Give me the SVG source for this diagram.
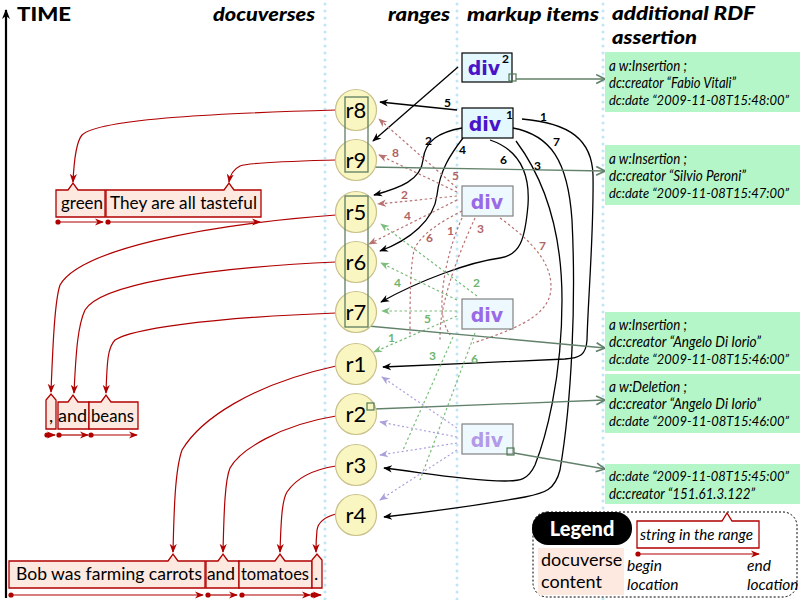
<svg xmlns="http://www.w3.org/2000/svg" width="800" height="600" viewBox="0 0 800 600">
<defs>
<style>
.hdr{font-family:Lato,"DejaVu Sans",sans-serif;font-weight:900;font-style:italic;font-size:19px;fill:#000}
.col{stroke:#bfe6f7;stroke-width:3;stroke-linecap:round;stroke-dasharray:0.1 6.9;fill:none}
.rng circle{fill:#faf6c2;stroke:#c9c18c;stroke-width:1.2}
.rng text{font-family:Lato,"DejaVu Sans",sans-serif;font-size:22px;fill:#000;text-anchor:middle}
.grp{fill:none;stroke:#5e7d62;stroke-width:1.3}
.mk1{fill:#e3f8ff;stroke:#000;stroke-width:1.2}
.mk2{fill:#eef9ff;stroke:#808080;stroke-width:1.2}
.divt{font-family:"DejaVu Sans",Lato,sans-serif;font-weight:bold;font-size:19px;text-anchor:middle}
.sup{font-family:Lato,"DejaVu Sans",sans-serif;font-weight:bold;font-size:12px;fill:#000}
.rdf{fill:#b5f6c8}
.rdft{font-family:Lato,"Open Sans",sans-serif;font-style:italic;font-size:14.5px;fill:#000}
.rdfd{font-family:Lato,"Open Sans",sans-serif;font-style:italic;font-size:13.5px;fill:#000}
.doc{fill:#fde9e0;stroke:#b00000;stroke-width:1.3}
.doct{font-family:Lato,"Open Sans",sans-serif;font-size:18px;fill:#000}
.blk{fill:none;stroke:#000;stroke-width:1.3;marker-end:url(#ab)}
.red{fill:none;stroke:#b00000;stroke-width:1.2;marker-end:url(#ar)}
.loc{fill:none;stroke:#b00000;stroke-width:1.2;marker-start:url(#dot);marker-end:url(#ar)}
.rd{fill:none;stroke:#b87272;stroke-width:1.2;stroke-dasharray:2.5 2.5}
.rda{marker-end:url(#ard)}
.gd{fill:none;stroke:#7cbc7c;stroke-width:1.2;stroke-dasharray:2.5 2.5}
.gda{marker-end:url(#agd)}
.pd{fill:none;stroke:#ab9fdc;stroke-width:1.2;stroke-dasharray:2 2.5;marker-end:url(#apd)}
.rdfl{fill:none;stroke:#62816a;stroke-width:1.3;marker-end:url(#ach)}
.sq{fill:none;stroke:#4f7a55;stroke-width:1.2}
.nb{font-family:Lato,"DejaVu Sans",sans-serif;font-weight:bold;font-size:12px;fill:#000}
.nr{font-family:Lato,"DejaVu Sans",sans-serif;font-weight:bold;font-size:12px;fill:#b06464}
.ng{font-family:Lato,"DejaVu Sans",sans-serif;font-weight:bold;font-size:12px;fill:#6fb46f}
.lg{font-family:Lato,"Open Sans",sans-serif;font-style:italic;font-size:15.5px;fill:#000}
</style>
<marker id="ab" viewBox="0 0 10 10" refX="9" refY="5" markerWidth="9" markerHeight="9" orient="auto" markerUnits="userSpaceOnUse"><path d="M0,1 L10,5 L0,9 L3,5 z" fill="#000"/></marker>
<marker id="ar" viewBox="0 0 10 10" refX="9" refY="5" markerWidth="9" markerHeight="9" orient="auto" markerUnits="userSpaceOnUse"><path d="M0,1 L10,5 L0,9 L3,5 z" fill="#b00000"/></marker>
<marker id="ard" viewBox="0 0 10 10" refX="9" refY="5" markerWidth="9" markerHeight="9" orient="auto" markerUnits="userSpaceOnUse"><path d="M0,1 L10,5 L0,9 L3,5 z" fill="#b87272"/></marker>
<marker id="agd" viewBox="0 0 10 10" refX="9" refY="5" markerWidth="9" markerHeight="9" orient="auto" markerUnits="userSpaceOnUse"><path d="M0,1 L10,5 L0,9 L3,5 z" fill="#7cbc7c"/></marker>
<marker id="apd" viewBox="0 0 10 10" refX="9" refY="5" markerWidth="9" markerHeight="9" orient="auto" markerUnits="userSpaceOnUse"><path d="M0,1 L10,5 L0,9 L3,5 z" fill="#ab9fdc"/></marker>
<marker id="ach" viewBox="0 0 10 10" refX="9" refY="5" markerWidth="11" markerHeight="11" orient="auto" markerUnits="userSpaceOnUse"><path d="M1,1 L9,5 L1,9" fill="none" stroke="#62816a" stroke-width="1.5"/></marker>
<marker id="dot" viewBox="0 0 6 6" refX="3" refY="3" markerWidth="6" markerHeight="6" markerUnits="userSpaceOnUse"><circle cx="3" cy="3" r="2.6" fill="#b00000"/></marker>
<marker id="at" viewBox="0 0 10 10" refX="9" refY="5" markerWidth="10" markerHeight="10" orient="auto" markerUnits="userSpaceOnUse"><path d="M0,1 L10,5 L0,9 L3,5 z" fill="#000"/></marker>
</defs>
<rect width="800" height="600" fill="#fff"/>

<g id="columns">
<line class="col" x1="325" y1="4" x2="325" y2="600"/>
<line class="col" x1="457" y1="4" x2="457" y2="600"/>
<line class="col" x1="603" y1="4" x2="603" y2="600"/>
</g>

<g id="time-axis">
<line x1="6" y1="598" x2="6" y2="10" stroke="#000" stroke-width="2.2" marker-end="url(#at)"/>
<text x="17" y="21" font-family="Lato,'DejaVu Sans',sans-serif" font-weight="900" font-size="19" textLength="54" lengthAdjust="spacingAndGlyphs">TIME</text>
</g>

<g id="headers">
<text class="hdr" x="213" y="21" textLength="102" lengthAdjust="spacingAndGlyphs">docuverses</text>
<text class="hdr" x="388" y="21" textLength="62" lengthAdjust="spacingAndGlyphs">ranges</text>
<text class="hdr" x="467" y="21" textLength="132" lengthAdjust="spacingAndGlyphs">markup items</text>
<text class="hdr" x="612" y="20" textLength="143" lengthAdjust="spacingAndGlyphs">additional RDF</text>
<text class="hdr" x="612" y="44" textLength="85" lengthAdjust="spacingAndGlyphs">assertion</text>
</g>

<g id="connectors">
<!-- black markup connectors -->
<path class="blk" d="M458,67 L373,141"/>
<path class="blk" d="M457,110 L380,102"/>
<path class="blk" d="M462,128 C440,132 425,140 423,160 C421,180 400,188 374,195"/>
<path class="blk" d="M463,138 C450,155 440,170 437,195 C434,220 410,240 380,251"/>
<path class="blk" d="M490,140 C520,150 530,175 528,205 C525,240 520,255 500,258 C470,262 420,280 381,302"/>
<path class="blk" d="M516,141 C545,180 562,230 562,300 C562,380 545,440 535,465 C528,480 520,481 505,481 C460,480 420,472 384,468"/>
<path class="blk" d="M513,128 C550,135 568,160 572,220 C576,300 572,400 560,470 C555,490 545,493 525,497 C480,505 420,513 384,517"/>
<path class="blk" d="M522,119 C570,123 592,140 593,175 C594,230 588,300 587,340 C586,355 580,358 565,359 C520,361 430,365 383,367"/>
<!-- red dotted from third div -->
<path class="rd rda" d="M457,188 L379,119"/>
<path class="rd rda" d="M457,192 L379,155"/>
<path class="rd rda" d="M457,196 L378,204"/>
<path class="rd rda" d="M457,200 L369,244"/>
<path class="rd" d="M462,218 C450,245 443,275 442,300 C441,320 447,330 450,335"/>
<path class="rd" d="M475,218 C465,240 452,270 445,300 C440,320 440,330 440,340"/>
<path class="rd" d="M462,211 C440,222 420,235 414,250 C410,270 410,300 410,335"/>
<path class="rd" d="M500,218 C530,240 550,260 551,285 C552,310 530,325 473,343"/>
<!-- green dotted from fourth div -->
<path class="gd gda" d="M477,296 L381,224"/>
<path class="gd gda" d="M457,300 L381,263"/>
<path class="gd gda" d="M457,311 L382,311"/>
<path class="gd gda" d="M457,316 L374,352"/>
<path class="gd" d="M453,337 L403,450"/>
<path class="gd" d="M475,333 L420,480"/>
<!-- purple dotted from fifth div -->
<path class="pd" d="M457,428 L382,377"/>
<path class="pd" d="M457,437 L380,422"/>
<path class="pd" d="M457,443 L380,455"/>
<path class="pd" d="M457,450 L380,500"/>
<!-- RDF links -->
<path class="rdfl" d="M516,79 L605,79"/>
<path class="rdfl" d="M368,167 L605,171"/>
<path class="rdfl" d="M368,326 L605,348"/>
<path class="rdfl" d="M374,409 L605,400"/>
<path class="rdfl" d="M514,453 L605,469"/>
<!-- range to docuverse -->
<path class="red" d="M336,110 C230,113 100,118 82,135 C76,142 74,160 73,182"/>
<path class="red" d="M336,160 C300,161 250,162 240,166 C232,170 230,176 229,182"/>
<path class="red" d="M336,215 C200,225 80,250 60,285 C55,300 53,340 51,392"/>
<path class="red" d="M336,262 C200,268 100,285 85,310 C78,325 76,350 74,393"/>
<path class="red" d="M336,313 C200,318 130,330 115,340 C108,347 107,360 106,393"/>
<path class="red" d="M336,366 C250,385 200,420 182,450 C175,470 174,510 173,552"/>
<path class="red" d="M336,416 C280,425 240,450 230,468 C225,480 224,510 223,552"/>
<path class="red" d="M336,466 C310,470 295,480 287,492 C282,500 281,520 280,552"/>
<path class="red" d="M336,514 C325,517 318,523 317,530 C316,540 316,546 316,552"/>
<!-- connector labels -->
<text class="nb" x="444" y="107">5</text>
<text class="nb" x="425" y="145">2</text>
<text class="nb" x="459" y="154">4</text>
<text class="nb" x="500" y="164">6</text>
<text class="nb" x="534" y="170">3</text>
<text class="nb" x="553" y="146">7</text>
<text class="nb" x="540" y="121">1</text>
<text class="nr" x="452" y="180">5</text>
<text class="nr" x="392" y="157">8</text>
<text class="nr" x="401" y="199">2</text>
<text class="nr" x="404" y="220">4</text>
<text class="nr" x="447" y="235">1</text>
<text class="nr" x="477" y="233">3</text>
<text class="nr" x="426" y="242">6</text>
<text class="nr" x="539" y="250">7</text>
<text class="ng" x="473" y="287">2</text>
<text class="ng" x="394" y="287">4</text>
<text class="ng" x="424" y="323">5</text>
<text class="ng" x="388" y="342">1</text>
<text class="ng" x="429" y="360">3</text>
<text class="ng" x="471" y="363">6</text>
</g>

<!-- ranges -->
<g id="r8" class="rng"><circle cx="356" cy="110" r="20.5"/><text x="356" y="118">r8</text></g>
<g id="r9" class="rng"><circle cx="356" cy="160" r="20.5"/><text x="356" y="168">r9</text></g>
<g id="r5" class="rng"><circle cx="356" cy="212" r="20.5"/><text x="356" y="220">r5</text></g>
<g id="r6" class="rng"><circle cx="356" cy="262" r="20.5"/><text x="356" y="270">r6</text></g>
<g id="r7" class="rng"><circle cx="356" cy="312" r="20.5"/><text x="356" y="320">r7</text></g>
<g id="r1" class="rng"><circle cx="356" cy="364" r="20.5"/><text x="356" y="372">r1</text></g>
<g id="r2" class="rng"><circle cx="356" cy="414" r="20.5"/><text x="356" y="422">r2</text></g>
<g id="r3" class="rng"><circle cx="356" cy="465" r="20.5"/><text x="356" y="473">r3</text></g>
<g id="r4" class="rng"><circle cx="356" cy="515" r="20.5"/><text x="356" y="523">r4</text></g>
<g id="range-groups">
<rect class="grp" x="345" y="97" width="23" height="75"/>
<rect class="grp" x="345" y="196" width="23" height="131"/>
<rect class="sq" x="367" y="403" width="7" height="7"/>
</g>

<!-- markup items -->
<g id="div2"><rect class="mk1" x="462" y="53" width="50" height="29"/><text class="divt" x="484" y="75" fill="#4a14c8">div</text><text class="sup" x="502" y="63">2</text><rect class="sq" x="509" y="74" width="7" height="7"/></g>
<g id="div1"><rect class="mk1" x="462" y="108" width="51" height="30"/><text class="divt" x="485" y="131" fill="#4a14c8">div</text><text class="sup" x="506" y="119">1</text></g>
<g id="div3"><rect class="mk2" x="462" y="186" width="51" height="30"/><text class="divt" x="487" y="209" fill="#9a6ae6">div</text></g>
<g id="div4"><rect class="mk2" x="462" y="299" width="51" height="30"/><text class="divt" x="487" y="322" fill="#9a6ae6">div</text></g>
<g id="div5"><rect class="mk2" x="462" y="424" width="51" height="30"/><text class="divt" x="487" y="447" fill="#b39ae8">div</text><rect class="sq" x="507" y="448" width="7" height="7"/></g>

<!-- RDF assertions -->
<g id="rdf1"><rect class="rdf" x="605" y="52" width="195" height="60"/>
<text class="rdft" x="609" y="71" textLength="78" lengthAdjust="spacingAndGlyphs">a w:Insertion ;</text>
<text class="rdft" x="609" y="88" textLength="127" lengthAdjust="spacingAndGlyphs">dc:creator “Fabio Vitali”</text>
<text class="rdfd" x="609" y="105" textLength="180" lengthAdjust="spacingAndGlyphs">dc:date “2009-11-08T15:48:00”</text></g>
<g id="rdf2"><rect class="rdf" x="605" y="145" width="195" height="60"/>
<text class="rdft" x="609" y="164" textLength="78" lengthAdjust="spacingAndGlyphs">a w:Insertion ;</text>
<text class="rdft" x="609" y="181" textLength="137" lengthAdjust="spacingAndGlyphs">dc:creator “Silvio Peroni”</text>
<text class="rdfd" x="609" y="198" textLength="180" lengthAdjust="spacingAndGlyphs">dc:date “2009-11-08T15:47:00”</text></g>
<g id="rdf3"><rect class="rdf" x="605" y="312" width="195" height="59"/>
<text class="rdft" x="609" y="330" textLength="78" lengthAdjust="spacingAndGlyphs">a w:Insertion ;</text>
<text class="rdft" x="609" y="347" textLength="152" lengthAdjust="spacingAndGlyphs">dc:creator “Angelo Di Iorio”</text>
<text class="rdfd" x="609" y="364" textLength="180" lengthAdjust="spacingAndGlyphs">dc:date “2009-11-08T15:46:00”</text></g>
<g id="rdf4"><rect class="rdf" x="605" y="374" width="195" height="59"/>
<text class="rdft" x="609" y="392" textLength="78" lengthAdjust="spacingAndGlyphs">a w:Deletion ;</text>
<text class="rdft" x="609" y="409" textLength="152" lengthAdjust="spacingAndGlyphs">dc:creator “Angelo Di Iorio”</text>
<text class="rdfd" x="609" y="426" textLength="180" lengthAdjust="spacingAndGlyphs">dc:date “2009-11-08T15:46:00”</text></g>
<g id="rdf5"><rect class="rdf" x="605" y="464" width="195" height="40"/>
<text class="rdfd" x="609" y="481" textLength="180" lengthAdjust="spacingAndGlyphs">dc:date “2009-11-08T15:45:00”</text>
<text class="rdft" x="609" y="499" textLength="146" lengthAdjust="spacingAndGlyphs">dc:creator “151.61.3.122”</text></g>

<!-- docuverses -->
<g id="doc-green"><path class="doc" d="M56,190 H68 L73,183 L78,190 H105 V217 H56 Z"/><text class="doct" x="61" y="209" textLength="42" lengthAdjust="spacingAndGlyphs">green</text><path class="loc" d="M58,222 H103"/></g>
<g id="doc-tasteful"><path class="doc" d="M106,190 H224 L229,183 L234,190 H261 V217 H106 Z"/><text class="doct" x="110" y="209" textLength="147" lengthAdjust="spacingAndGlyphs">They are all tasteful</text><path class="loc" d="M108,222 H260"/></g>
<g id="doc-comma"><path class="doc" d="M46,429 V400 L51,394 L56,400 V429 Z"/><text class="doct" x="49" y="422">,</text><path class="loc" d="M47,435 H55"/></g>
<g id="doc-and1"><path class="doc" d="M58,402 H68 L73,395 L78,402 H89 V429 H58 Z"/><text class="doct" x="58" y="422" textLength="29" lengthAdjust="spacingAndGlyphs">and</text><path class="loc" d="M59,435 H88"/></g>
<g id="doc-beans"><path class="doc" d="M89,402 H101 L106,395 L111,402 H138 V429 H89 Z"/><text class="doct" x="91" y="422" textLength="43" lengthAdjust="spacingAndGlyphs">beans</text><path class="loc" d="M91,435 H137"/></g>
<g id="doc-bob"><path class="doc" d="M9,561 H168 L173,554 L178,561 H205 V588 H9 Z"/><text class="doct" x="16" y="580" textLength="186" lengthAdjust="spacingAndGlyphs">Bob was farming carrots</text><path class="loc" d="M11,595 H203"/></g>
<g id="doc-and2"><path class="doc" d="M206,561 H218 L223,554 L228,561 H239 V588 H206 Z"/><text class="doct" x="207" y="580" textLength="28" lengthAdjust="spacingAndGlyphs">and</text><path class="loc" d="M208,595 H237"/></g>
<g id="doc-tomatoes"><path class="doc" d="M239,561 H275 L280,554 L285,561 H312 V588 H239 Z"/><text class="doct" x="241" y="580" textLength="68" lengthAdjust="spacingAndGlyphs">tomatoes</text><path class="loc" d="M242,595 H310"/></g>
<g id="doc-period"><path class="doc" d="M312,588 V560 L317,554 L322,560 V588 Z"/><text class="doct" x="314" y="580">.</text><path class="loc" d="M313,595 H321"/></g>

<!-- legend -->
<g id="legend">
<rect x="533" y="512" width="264" height="85" rx="14" fill="#fff" stroke="#000" stroke-width="1" stroke-dasharray="2 2"/>
<rect x="532" y="512" width="100" height="33" rx="16" fill="#000"/>
<text x="582" y="536" font-family="Lato,'DejaVu Sans',sans-serif" font-weight="900" font-size="20" fill="#fff" text-anchor="middle">Legend</text>
<rect x="538" y="548" width="86" height="47" fill="#fde9e0"/>
<text class="doct" x="541" y="566">docuverse</text>
<text class="doct" x="541" y="588">content</text>
<path d="M637,521 H722 L727,513 L732,521 H759 V548 H637 Z" fill="#fff" stroke="#b00000" stroke-width="1.3"/>
<text class="lg" x="640" y="540" textLength="113" lengthAdjust="spacingAndGlyphs">string in the range</text>
<path class="loc" d="M638,554 H759"/>
<text class="lg" x="627" y="571">begin</text>
<text class="lg" x="627" y="590">location</text>
<text class="lg" x="747" y="571">end</text>
<text class="lg" x="747" y="590">location</text>
</g>
</svg>
